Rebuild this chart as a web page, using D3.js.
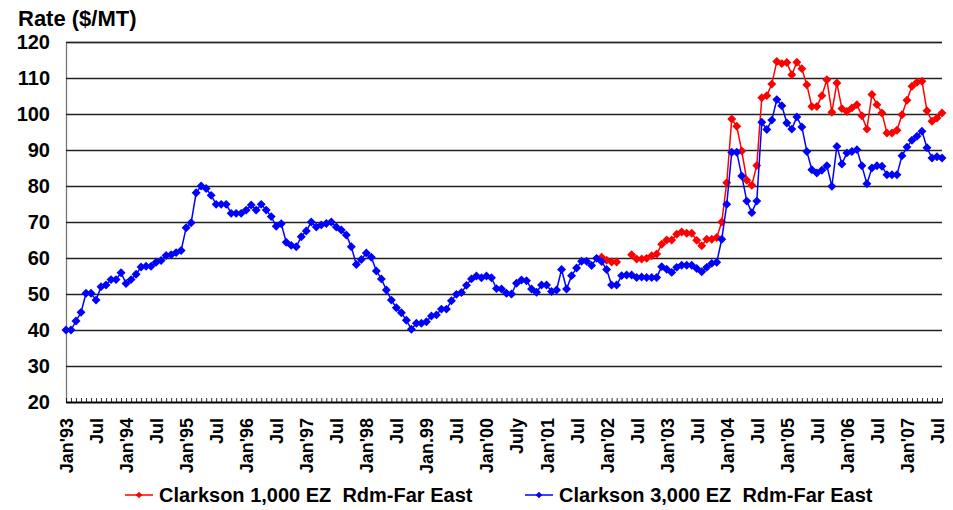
<!DOCTYPE html>
<html lang="en">
<head>
  <meta charset="UTF-8" />
  <title>Clarkson Rdm-Far East rates</title>
  <style>
  body {
    margin: 0;
    background: #fff;
    font-family: "Liberation Sans", Arial, sans-serif;
  }
  svg {
    display: block;
  }
  </style>
  <script src="https://d3js.org/d3.v7.min.js"></script>
</head>
<body>
  <div id="chart"></div>
  <script>
    // Monthly categories, Jan'93 .. Aug'07
    const months = d3.timeMonth.range(new Date(1993, 0, 1), new Date(2007, 8, 1));

    // Labels shown every 6 months
    const xTickLabels = ["Jan'93", "Jul", "Jan'94", "Jul", "Jan'95", "Jul", "Jan'96", "Jul",
      "Jan'97", "Jul", "Jan'98", "Jul", "Jan.99", "Jul", "Jan'00", "July", "Jan'01", "Jul",
      "Jan'02", "Jul", "Jan'03", "Jul", "Jan'04", "Jul", "Jan'05", "Jul", "Jan'06", "Jul",
      "Jan'07", "Jul"];

    const yTicks = [20, 30, 40, 50, 60, 70, 80, 90, 100, 110, 120];

    // Clarkson 3,000 EZ Rdm-Far East, one value per month from Jan'93
    const rate3000 = [
      40, 40, 42.5, 44.9, 50.2, 50.2, 48.3, 52, 52.5, 54, 54, 55.9,
      52.9, 54, 55.5, 57.5, 57.7, 57.7, 58.8, 59.3, 60.7, 60.9, 61.5, 62.1,
      68.4, 69.8, 78.1, 80, 79.3, 77.4, 74.9, 74.9, 74.9, 72.4, 72.4, 72.4,
      73.3, 74.7, 73.3, 74.9, 73.3, 71.5, 68.8, 69.5, 64.4, 63.5, 63.1, 65.9,
      67.5, 70, 68.6, 69.2, 69.6, 70, 68.6, 67.8, 66.4, 63.1, 58.2, 59.6,
      61.4, 60.2, 56.4, 54.2, 51.1, 48.3, 46.2, 44.8, 42.7, 40.2, 41.9, 41.9,
      42.3, 43.9, 44.2, 45.8, 45.8, 48.1, 49.9, 50.4, 52.4, 54.2, 55, 54.5,
      55, 54.5, 51.5, 51.4, 50.2, 50, 53, 53.9, 53.7, 51.4, 50.5, 52.5,
      52.5, 50.7, 51.1, 56.8, 51.4, 55.1, 57.2, 59.1, 59.1, 57.9, 59.9, 59,
      56.8, 52.5, 52.5, 55.1, 55.3, 55.3, 54.6, 54.7, 54.6, 54.6, 54.6, 57.6,
      56.9, 56, 57.4, 58, 58, 58, 57.1, 56.2, 57.4, 58.5, 58.8, 65.2,
      74.9, 89.4, 89.4, 82.8, 75.8, 72.6, 75.8, 97.7, 95.7, 98.3, 104, 102.3,
      97.5, 95.8, 99.2, 96.4, 89.6, 84.5, 83.6, 84.4, 85.6, 79.9, 91, 86.1,
      89.2, 89.6, 90.1, 85.6, 80.6, 85, 85.6, 85.5, 83.1, 83.1, 83.1, 88.4,
      90.8, 92.7, 93.8, 95.2, 90.6, 87.8, 88.1, 87.8
    ];

    // Clarkson 1,000 EZ Rdm-Far East, starts Dec'01 (null = no quote)
    const rate1000Start = 107;
    const rate1000 = [
      60.2,
      59.4, 58.9, 58.9, null, null, 60.9, 59.7, 59.7, 59.9, 60.6, 61.1, 63.8,
      65, 65, 66.6, 67.2, 66.9, 66.9, 64.9, 63.4, 65.2, 65.2, 65.7, 70,
      80.9, 98.6, 96.6, 89.7, 81.6, 80.2, 85.7, 104.5, 105.1, 108.3, 114.6, 114,
      114.3, 110.9, 114.4, 112.6, 108.1, 102.1, 102.1, 105.1, 109.5, 100.5, 108.6, 101.5,
      100.7, 101.7, 102.6, 99.5, 95.8, 105.4, 102.6, 100.3, 94.7, 94.7, 95.5, 99.8,
      103.8, 107.7, 108.8, 109.1, 100.9, 98, 98.9, 100.3
    ];

    const series = [
      { name: "Clarkson 1,000 EZ  Rdm-Far East", color: "#ff0000",
        values: rate1000.map((v, i) => ({ i: i + rate1000Start, v })) },
      { name: "Clarkson 3,000 EZ  Rdm-Far East", color: "#0000ff",
        values: rate3000.map((v, i) => ({ i, v })) }
    ];

    const width = 953;
    const height = 510;
    const margin = { top: 42, right: 11, bottom: 108, left: 66 };

    const svg = d3.select("#chart").append("svg")
      .attr("width", width)
      .attr("height", height);

    const x = d3.scaleLinear()
      .domain([0, months.length - 1])
      .range([margin.left, width - margin.right]);

    const y = d3.scaleLinear()
      .domain([20, 120])
      .range([height - margin.bottom, margin.top]);

    // Title
    svg.append("text")
      .attr("x", 18)
      .attr("y", 26)
      .attr("font-size", 22)
      .attr("font-weight", "bold")
      .text("Rate ($/MT)");

    // Y axis with gridlines
    const yAxis = svg.append("g")
      .attr("transform", `translate(${margin.left},0)`)
      .call(d3.axisLeft(y)
        .tickValues(yTicks)
        .tickSize(-(width - margin.left - margin.right))
        .tickPadding(16));
    yAxis.select(".domain").attr("stroke", "#777").attr("stroke-width", 1.3);
    yAxis.selectAll(".tick line").attr("stroke", "#222").attr("stroke-width", 1.4);
    yAxis.selectAll(".tick text")
      .attr("font-size", 20)
      .attr("font-weight", "bold")
      .attr("font-family", "Liberation Sans, Arial, sans-serif")
      .attr("fill", "#000");

    // X axis: minor ticks every month
    const xMinor = svg.append("g")
      .attr("transform", `translate(0,${height - margin.bottom})`)
      .call(d3.axisBottom(x)
        .tickValues(d3.range(months.length))
        .tickSize(-4)
        .tickSizeOuter(0)
        .tickFormat(""));
    xMinor.select(".domain").attr("stroke", "#000").attr("stroke-width", 1.5);
    xMinor.selectAll(".tick line").attr("stroke", "#000").attr("stroke-width", 0.8);

    // X axis labels every 6 months, rotated
    const xLab = svg.append("g")
      .attr("transform", `translate(0,${height - margin.bottom})`)
      .call(d3.axisBottom(x)
        .tickValues(d3.range(0, months.length, 6))
        .tickSize(0)
        .tickFormat((d, i) => xTickLabels[i]));
    xLab.select(".domain").remove();
    xLab.selectAll(".tick text")
      .attr("font-size", 18)
      .attr("font-weight", "bold")
      .attr("font-family", "Liberation Sans, Arial, sans-serif")
      .attr("fill", "#000")
      .attr("text-anchor", "end")
      .attr("transform", "rotate(-90)")
      .attr("x", -16)
      .attr("y", 0)
      .attr("dy", "0.36em");

    // Lines and diamond markers
    const line = d3.line()
      .defined(d => d.v != null)
      .x(d => x(d.i))
      .y(d => y(d.v));

    const diamond = d3.symbol().type(d3.symbolSquare).size(40);

    series.forEach(s => {
      svg.append("path")
        .datum(s.values)
        .attr("fill", "none")
        .attr("stroke", s.color)
        .attr("stroke-width", 1.5)
        .attr("d", line);

      svg.append("g")
        .selectAll("path")
        .data(s.values.filter(d => d.v != null))
        .join("path")
        .attr("transform", d => `translate(${x(d.i)},${y(d.v)}) rotate(45)`)
        .attr("fill", s.color)
        .attr("d", diamond);
    });

    // Legend
    const legendItems = [
      { s: series[0], x: 125 },
      { s: series[1], x: 525 }
    ];
    const legendY = 495;
    legendItems.forEach(item => {
      const g = svg.append("g").attr("transform", `translate(${item.x},${legendY})`);
      g.append("line")
        .attr("x1", 0).attr("x2", 28)
        .attr("stroke", item.s.color)
        .attr("stroke-width", 1.5);
      g.append("path")
        .attr("transform", "translate(14,0) rotate(45)")
        .attr("fill", item.s.color)
        .attr("d", d3.symbol().type(d3.symbolSquare).size(22));
      g.append("text")
        .attr("x", 34)
        .attr("dy", "0.36em")
        .attr("font-size", 20)
        .attr("font-weight", "bold")
        .style("white-space", "pre")
        .text(item.s.name);
    });
  </script>
</body>
</html>
